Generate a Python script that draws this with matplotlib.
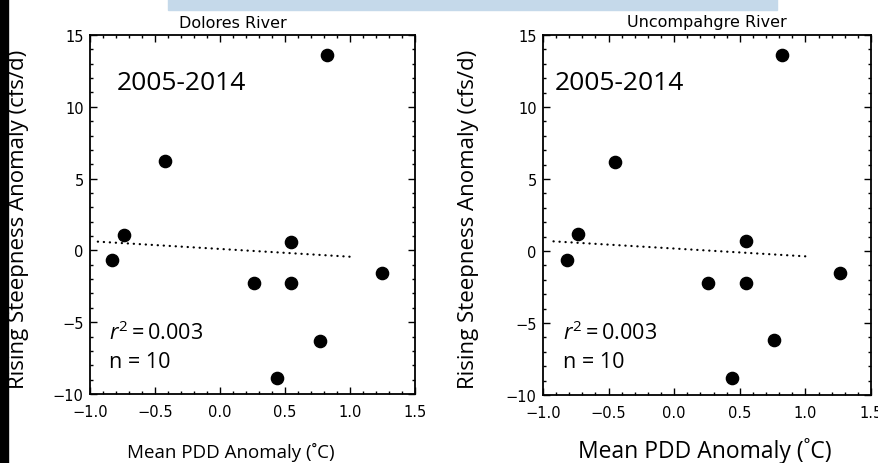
import matplotlib
matplotlib.use("Agg")
import matplotlib.pyplot as plt
from matplotlib.patches import Rectangle
from matplotlib.ticker import MultipleLocator, FuncFormatter

# Mean PDD anomaly (°C) vs rising-limb steepness anomaly (cfs/d), 2005-2014
dolores_x = [-0.83, -0.74, -0.42, 0.26, 0.55, 0.55, 0.82, 0.77, 0.44, 1.25]
dolores_y = [-0.7, 1.1, 6.2, -2.3, 0.6, -2.3, 13.6, -6.3, -8.9, -1.6]
uncomp_x = [-0.82, -0.73, -0.45, 0.26, 0.55, 0.55, 0.82, 0.76, 0.44, 1.26]
uncomp_y = [-0.6, 1.2, 6.2, -2.2, 0.7, -2.2, 13.6, -6.2, -8.8, -1.5]

# least-squares trend line end points
dolores_fit_x = [-0.94, 1.0]
dolores_fit_y = [0.61, -0.44]
uncomp_fit_x = [-0.92, 1.0]
uncomp_fit_y = [0.67, -0.37]

titles = ["Dolores River", "Uncompahgre River"]
period = "2005-2014"
r2_label = r"$\mathit{r}^2 = 0.003$"
n_label = "n = 10"
xlabel = "Mean PDD Anomaly (˚C)"
ylabel = "Rising Steepness Anomaly (cfs/d)"

plt.rcParams["mathtext.fontset"] = "custom"
plt.rcParams["mathtext.rm"] = "Open Sans"
plt.rcParams["mathtext.it"] = "Open Sans:italic"

W, H = 879, 464
fig = plt.figure(figsize=(W / 100, H / 100), dpi=100)
fig.patch.set_facecolor("white")


def fx(px):
    return px / W


def fy(py):
    return 1 - py / H


def minus_fmt(decimals):
    def fmt(v, _pos):
        s = f"{abs(v):.{decimals}f}"
        return ("\u2212" + s) if v < -1e-9 else s
    return FuncFormatter(fmt)


# decorative strips along the edges
fig.patches.append(Rectangle((0, 0), fx(8), 1, transform=fig.transFigure,
                             color="black", zorder=0))
fig.patches.append(Rectangle((fx(168), fy(11)), fx(777 - 168), 11 / H,
                             transform=fig.transFigure, color="#c5d9ea", zorder=0))

panels = [
    dict(rect=[fx(90), fy(395), fx(415 - 90), (395 - 36) / H],
         x=dolores_x, y=dolores_y, fx_=dolores_fit_x, fy_=dolores_fit_y,
         title=titles[0], title_xy=(233, 23), text_x=117, stat_x=109,
         xlabel_xy=(231, 452), xlabel_size=13.5, ylabel_x=19),
    dict(rect=[fx(543), fy(396), fx(871 - 543), (396 - 36) / H],
         x=uncomp_x, y=uncomp_y, fx_=uncomp_fit_x, fy_=uncomp_fit_y,
         title=titles[1], title_xy=(707, 23), text_x=555, stat_x=563,
         xlabel_xy=(705, 451), xlabel_size=16.5, ylabel_x=469),
]

for p in panels:
    ax = fig.add_axes(p["rect"])
    ax.plot(p["fx_"], p["fy_"], color="black", lw=1.6,
            linestyle=(0, (0.1, 2.6)), dash_capstyle="round", zorder=2)
    ax.plot(p["x"], p["y"], "o", color="black", ms=8.8, zorder=3)
    ax.set_xlim(-1.0, 1.5)
    ax.set_ylim(-10, 15)
    ax.xaxis.set_major_locator(MultipleLocator(0.5))
    ax.xaxis.set_minor_locator(MultipleLocator(0.1))
    ax.yaxis.set_major_locator(MultipleLocator(5))
    ax.yaxis.set_minor_locator(MultipleLocator(1))
    ax.xaxis.set_major_formatter(minus_fmt(1))
    ax.yaxis.set_major_formatter(minus_fmt(0))
    ax.tick_params(which="both", direction="in", top=True, right=True,
                   width=1.0, colors="black", labelsize=10.5)
    ax.tick_params(which="major", length=5)
    ax.tick_params(which="minor", length=2.5)
    ax.tick_params(axis="x", which="major", pad=7)
    ax.tick_params(axis="y", which="major", pad=4.5)
    for s in ax.spines.values():
        s.set_linewidth(1.3)

    fig.text(fx(p["title_xy"][0]), fy(p["title_xy"][1]), p["title"],
             ha="center", va="center", fontsize=11.5, family="DejaVu Sans")
    fig.text(fx(p["text_x"]), fy(83), period, ha="left", va="center",
             fontsize=19, family="Open Sans")
    fig.text(fx(p["stat_x"]), fy(333), r2_label, ha="left", va="center",
             fontsize=15.5, family="Open Sans")
    fig.text(fx(p["stat_x"]), fy(363), n_label, ha="left", va="center",
             fontsize=15.5, family="Open Sans")
    fig.text(fx(p["xlabel_xy"][0]), fy(p["xlabel_xy"][1]), xlabel,
             ha="center", va="center", fontsize=p["xlabel_size"],
             family="Open Sans")
    fig.text(fx(p["ylabel_x"]), fy(219), ylabel, ha="center", va="center",
             rotation=90, fontsize=16, family="Open Sans")

fig.savefig("out.png", dpi=100)
